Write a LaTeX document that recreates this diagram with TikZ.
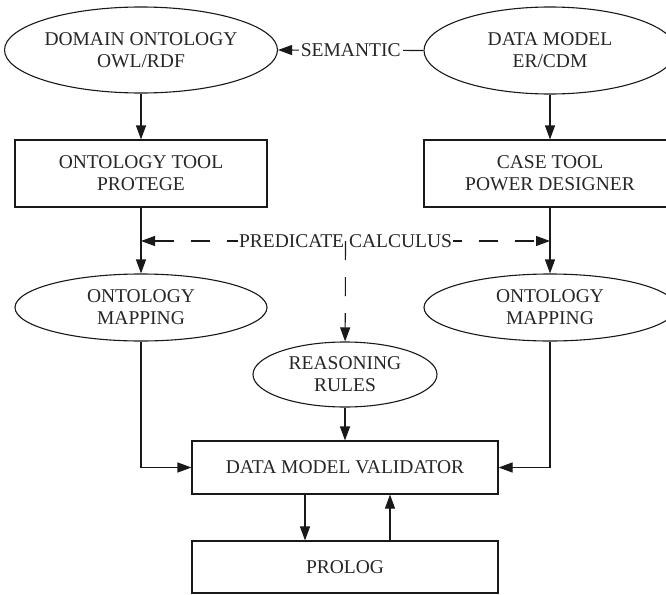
\documentclass[tikz,border=0pt]{standalone}
\usepackage{fontspec}
\setmainfont{Liberation Serif}
\usetikzlibrary{shapes.geometric,arrows.meta}
\tikzset{
  oval/.style={draw, ellipse, inner sep=0pt, align=center, text=black!85},
  box/.style={draw, rectangle, inner sep=0pt, align=center, text=black!85},
  dashline/.style={dash pattern=on 19pt off 17pt},
}
\begin{document}
\begin{tikzpicture}[x=1pt, y=-1pt, >={Triangle[length=14pt,width=10pt]}, line width=1.1pt, draw=black!90, font=\fontsize{19.5}{22}\selectfont]
			\useasboundingbox (0,0) rectangle (666,594);
			\clip (0,0) rectangle (666,594);
			% upper row
			\node[oval, minimum width=254pt, minimum height=86pt] (domain) at (141,50) {DOMAIN ONTOLOGY\\OWL/RDF};
			\node[oval, minimum width=252pt, minimum height=87pt] (datamodel) at (550,50.5) {DATA MODEL\\ER/CDM};
			\node[box, minimum width=252pt, minimum height=67pt] (ontotool) at (141,173.5) {ONTOLOGY TOOL\\PROTEGE};
			\node[box, minimum width=252pt, minimum height=67pt] (casetool) at (550,173.5) {CASE TOOL\\POWER DESIGNER};
			% mappings
			\node[oval, minimum width=252pt, minimum height=67pt] (mapleft) at (141,307.5) {ONTOLOGY\\MAPPING};
			\node[oval, minimum width=252pt, minimum height=67pt] (mapright) at (550,307.5) {ONTOLOGY\\MAPPING};
			\node[oval, minimum width=184pt, minimum height=65pt] (rules) at (345,374.5) {REASONING\\RULES};
			% validator and prolog
			\node[box, minimum width=306pt, minimum height=53pt] (validator) at (345,467.5) {DATA MODEL VALIDATOR};
			\node[box, minimum width=306pt, minimum height=52pt] (prolog) at (345,567) {PROLOG};
			\coordinate (predl) at (141,241);
			\coordinate (predr) at (550,241);
			\coordinate (predc) at (345.5,241);
			\draw[->] (domain) -- (ontotool);
			\draw[->] (datamodel) -- (casetool);
			\draw[->] (datamodel.west) -- (domain.east) node[midway, fill=white, inner sep=2pt, text=black!85] {SEMANTIC};
			\draw[->] (ontotool) -- (mapleft);
			\draw[->] (casetool) -- (mapright);
			\draw[dashline, <->] (predl) -- (predr) node[midway, fill=white, inner sep=1pt, text=black!85] {PREDICATE CALCULUS};
			\draw[dashline, ->] (predc) -- (rules);
			\draw[->] (rules) -- (validator);
			\draw[->] (mapleft) |- (validator);
			\draw[->] (mapright) |- (validator);
			\draw[->] ([xshift=-40pt]validator.south) -- ([xshift=-40pt]prolog.north);
			\draw[->] ([xshift=45pt]prolog.north) -- ([xshift=45pt]validator.south);
		\end{tikzpicture}
\end{document}
